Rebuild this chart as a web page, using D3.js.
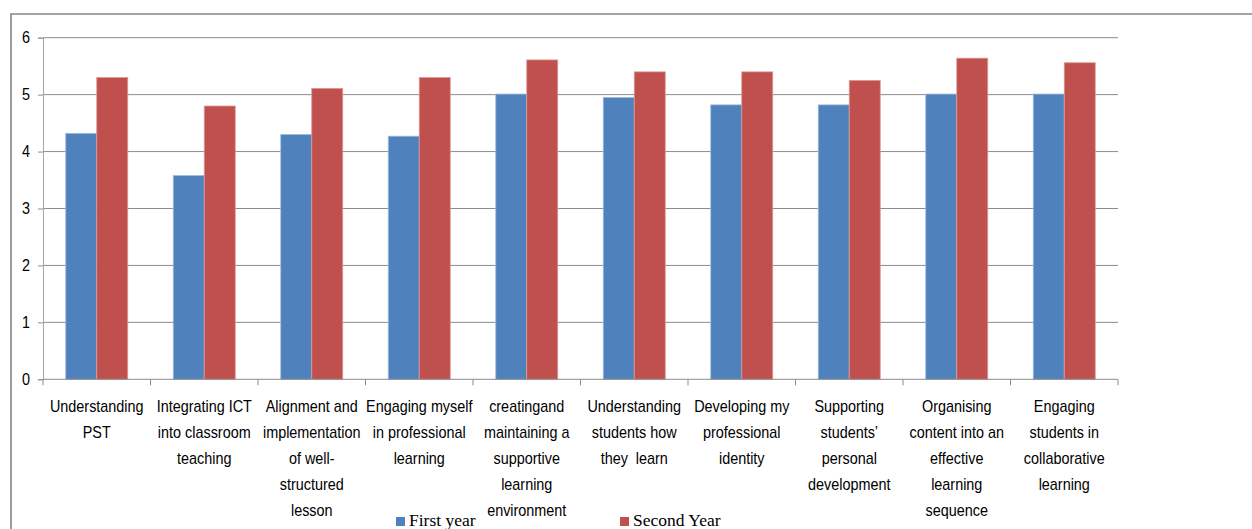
<!DOCTYPE html>
<html><head><meta charset="utf-8">
<script src="https://cdn.jsdelivr.net/npm/d3@7"></script>
<style>
html,body{margin:0;padding:0;background:#fff;overflow:hidden}
svg{display:block}
.lbl{font-family:"Liberation Sans",Arial,sans-serif;font-size:16px;fill:#000}
.leg{font-family:"Liberation Serif","Times New Roman",serif;font-size:17.5px;fill:#000}
</style></head>
<body><svg id="c" width="1252" height="529"></svg>
<script>
const categories = [
  "Understanding\nPST",
  "Integrating ICT\ninto classroom\nteaching",
  "Alignment and\nimplementation\nof well-\nstructured\nlesson",
  "Engaging myself\nin professional\nlearning",
  "creatingand\nmaintaining a\nsupportive\nlearning\nenvironment",
  "Understanding\nstudents how\nthey  learn",
  "Developing my\nprofessional\nidentity",
  "Supporting\nstudents\u2019\npersonal\ndevelopment",
  "Organising\ncontent into an\neffective\nlearning\nsequence",
  "Engaging\nstudents in\ncollaborative\nlearning"
];
const seriesNames = ["First year", "Second Year"];
const firstYear  = [4.32, 3.58, 4.30, 4.27, 5.01, 4.95, 4.82, 4.82, 5.01, 5.01];
const secondYear = [5.30, 4.80, 5.11, 5.30, 5.61, 5.40, 5.40, 5.25, 5.64, 5.56];
const yTicks = [0, 1, 2, 3, 4, 5, 6];
const colors = ["#4F81BD", "#C0504D"];
const strokes = ["#9fbbdd", "#dc9896"];

const svg = d3.select("#c");
const L = 43, R = 1118, T = 37.7, B = 379.3;
const SX = 0.9;

// outer frame
svg.append("path").attr("d", `M11,529 L11,14 L1252,14`)
  .attr("fill","none").attr("stroke","#868686").attr("stroke-width",1.6);

const x0 = d3.scaleBand().domain(d3.range(categories.length)).range([L, R]).paddingInner(0).paddingOuter(0);
const x1 = d3.scaleBand().domain([0,1]).range([0, x0.bandwidth()]).paddingInner(0).paddingOuter(0.734).align(0.5);
const y = d3.scaleLinear().domain([0, 6]).range([B, T]);

// gridlines
svg.append("g").selectAll("line").data(yTicks.filter(d => d > 0)).join("line")
  .attr("x1", L).attr("x2", R).attr("y1", d => y(d)).attr("y2", d => y(d))
  .attr("stroke", "#8c8c8c").attr("stroke-width", 1);

// bars
const data = categories.map((c, i) => [firstYear[i], secondYear[i]]);
const g = svg.append("g");
data.forEach((vals, i) => {
  vals.forEach((v, s) => {
    g.append("rect")
      .attr("x", x0(i) + x1(s))
      .attr("y", y(v))
      .attr("width", x1.bandwidth())
      .attr("height", y(0) - y(v))
      .attr("fill", colors[s])
      .attr("stroke", strokes[s]).attr("stroke-width", 0.8);
  });
});

// y axis
const yAxis = d3.axisLeft(y).tickValues(yTicks).tickSize(5).tickFormat(d3.format("d"));
const ya = svg.append("g").attr("transform", `translate(${L},0)`).call(yAxis);
ya.select(".domain").attr("stroke", "#a6a6a6");
ya.selectAll(".tick line").attr("stroke", "#8c8c8c");
ya.selectAll(".tick text").attr("class","lbl").attr("x", -13).style("font-size","16px")
  .attr("transform", `scale(${SX},1)`).attr("x", -13 / SX);

// x axis
const xb = d3.scaleLinear().domain([0, categories.length]).range([L, R]);
svg.append("line").attr("x1", L).attr("x2", R).attr("y1", B).attr("y2", B).attr("stroke", "#8c8c8c");
svg.append("g").selectAll("line").data(d3.range(categories.length + 1)).join("line")
  .attr("x1", d => xb(d)).attr("x2", d => xb(d)).attr("y1", B).attr("y2", B + 6)
  .attr("stroke", "#8c8c8c");

// category labels
const lg = svg.append("g");
categories.forEach((c, i) => {
  const cx = x0(i) + x0.bandwidth() / 2;
  const t = lg.append("text").attr("class", "lbl").attr("text-anchor", "middle")
    .attr("transform", `translate(${cx},0) scale(${SX},1)`)
    .attr("x", 0).attr("y", 412);
  c.split("\n").forEach((line, k) => {
    t.append("tspan").attr("x", 0).attr("dy", k === 0 ? 0 : 26)
      .attr("xml:space","preserve").text(line);
  });
});

// legend
const legX = [396, 620];
seriesNames.forEach((n, s) => {
  svg.append("rect").attr("x", legX[s]).attr("y", 517).attr("width", 9).attr("height", 9).attr("fill", colors[s]);
  svg.append("text").attr("class", "leg").attr("x", legX[s] + 13).attr("y", 526).text(n);
});
</script></body></html>
